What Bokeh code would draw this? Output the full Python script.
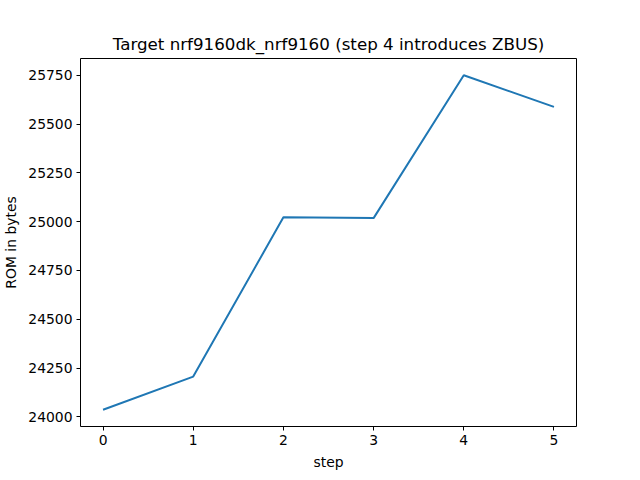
from bokeh.plotting import figure
from bokeh.models import Range1d, FixedTicker
from bokeh.embed import file_html
from bokeh.resources import INLINE

steps = [0, 1, 2, 3, 4, 5]
rom_bytes = [24036, 24206, 25022, 25018, 25750, 25588]
y_ticks = [24000, 24250, 24500, 24750, 25000, 25250, 25500, 25750]
x_ticks = [0, 1, 2, 3, 4, 5]

ymin, ymax = min(rom_bytes), max(rom_bytes)
ypad = (ymax - ymin) * 0.05
xpad = (max(steps) - min(steps)) * 0.05

p = figure(width=632, height=472, output_backend="svg", toolbar_location=None,
           x_range=Range1d(min(steps) - xpad, max(steps) + xpad),
           y_range=Range1d(ymin - ypad, ymax + ypad),
           min_border_left=80, min_border_right=56, min_border_top=58, min_border_bottom=45)

p.title.text = "Target nrf9160dk_nrf9160 (step 4 introduces ZBUS)"
p.title.align = "center"
p.title.text_font = "DejaVu Sans"
p.title.text_font_size = "16.7px"
p.title.text_font_style = "normal"
p.title.text_color = "black"

p.line(steps, rom_bytes, line_color="#1f77b4", line_width=2)

p.xgrid.visible = False
p.ygrid.visible = False
p.outline_line_color = "black"
p.outline_line_width = 1
p.background_fill_color = "white"
p.border_fill_color = "white"

p.xaxis.ticker = FixedTicker(ticks=x_ticks)
p.yaxis.ticker = FixedTicker(ticks=y_ticks)
p.xaxis.axis_label = "step"
p.yaxis.axis_label = "ROM in bytes"
for ax in (p.xaxis[0], p.yaxis[0]):
    ax.axis_line_color = None
    ax.major_tick_in = 0
    ax.major_tick_out = 4
    ax.minor_tick_line_color = None
    ax.major_tick_line_color = "black"
    ax.major_label_text_font = "DejaVu Sans"
    ax.major_label_text_font_size = "13.9px"
    ax.major_label_text_color = "black"
    ax.axis_label_text_font = "DejaVu Sans"
    ax.axis_label_text_font_size = "13.9px"
    ax.axis_label_text_font_style = "normal"
    ax.axis_label_text_color = "black"
    ax.major_label_standoff = 4
    ax.axis_label_standoff = 6
p.yaxis.major_label_orientation = "horizontal"

open("out.html", "w").write(file_html(p, INLINE))
